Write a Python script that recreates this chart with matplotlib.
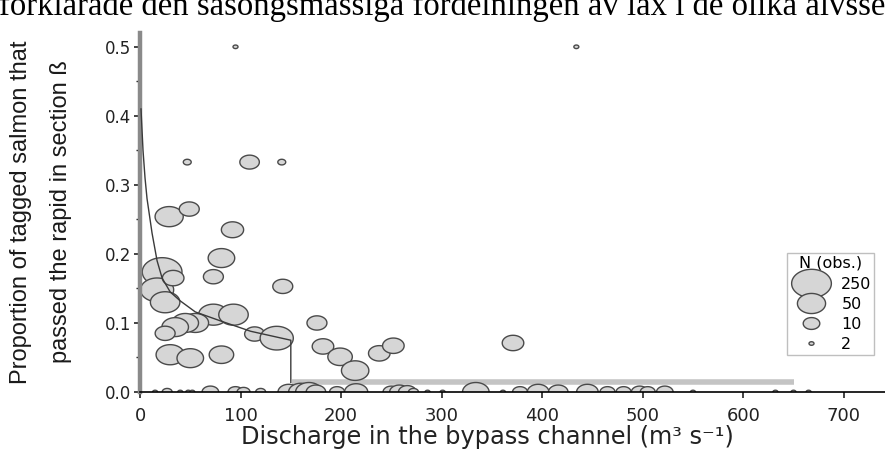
import numpy as np
import matplotlib
matplotlib.use("Agg")
import matplotlib.pyplot as plt
from matplotlib.path import Path
from matplotlib.markers import MarkerStyle
from matplotlib.lines import Line2D
from matplotlib.ticker import MultipleLocator

# ---------------- data ----------------
# observations with passage (x = discharge, y = proportion, n = number of obs.)
pos_x = [29, 49, 92, 81, 73, 109, 47, 141, 95, 434,
         22, 17, 25, 33, 73, 93, 55, 45, 35, 25,
         114, 136, 142, 176, 182, 199, 214, 238, 252, 371,
         30, 50, 81]
pos_y = [0.254, 0.265, 0.235, 0.194, 0.167, 0.333, 0.333, 0.333, 0.5, 0.5,
         0.174, 0.148, 0.130, 0.165, 0.112, 0.112, 0.100, 0.100, 0.094, 0.085,
         0.084, 0.078, 0.153, 0.100, 0.066, 0.051, 0.031, 0.056, 0.067, 0.071,
         0.054, 0.049, 0.054]
pos_n = [50, 16, 22, 40, 16, 15, 3, 3, 2, 2,
         250, 100, 60, 20, 60, 60, 40, 40, 40, 16,
         16, 100, 16, 16, 20, 30, 45, 20, 20, 20,
         50, 40, 30]

# observations with zero passage
zero_x = [15, 27, 40, 48, 52, 70, 95, 103, 120, 148, 160, 168, 175, 196, 215,
          250, 258, 266, 272, 286, 301, 334, 361, 378, 396, 416, 445, 465,
          481, 497, 505, 522, 550, 632, 650, 665]
zero_n = [2, 4, 2, 2, 2, 10, 8, 6, 4, 20, 30, 40, 15, 8, 25,
          10, 15, 12, 4, 2, 2, 40, 2, 8, 20, 15, 20, 8,
          8, 10, 8, 10, 2, 2, 2, 2]

# fitted relationship
fit_x = [1, 3, 5, 7, 12, 17, 22, 30, 40, 55, 80, 110, 150, 150]
fit_y = [0.41, 0.35, 0.31, 0.28, 0.23, 0.19, 0.165, 0.145, 0.132, 0.116,
         0.103, 0.088, 0.075, 0.014]
band_x = [151, 650]
band_y = [0.014, 0.014]

legend_n = [250, 50, 10, 2]
legend_labels = ["250", "50", "10", "2"]

x_ticks = [0, 100, 200, 300, 400, 500, 600, 700]
y_ticks = [0.0, 0.1, 0.2, 0.3, 0.4, 0.5]

# ---------------- style ----------------
t = np.linspace(0, 2 * np.pi, 73)
ell = MarkerStyle(Path(np.column_stack([1.4 * np.cos(t), np.sin(t)]), closed=True))
face = "#d6d6d6"
edge = "#4a4a4a"


def width_pt(n):
    return np.maximum(7.2 * np.log(np.asarray(n, float)), 4.5) * 72 / 100


fig = plt.figure(figsize=(8.85, 4.54), dpi=100)
ax = fig.add_axes([140 / 885, 62 / 454, 745 / 885, 359 / 454])
ax.set_xlim(0, 741)
ax.set_ylim(0, 0.52)

ax.plot(band_x, band_y, color="#c4c4c4", lw=4, solid_capstyle="butt", zorder=1.5)
ax.scatter(zero_x, np.zeros(len(zero_x)), s=width_pt(zero_n) ** 2, marker=ell,
           facecolor=face, edgecolor=edge, linewidths=1.0, zorder=2)
ax.scatter(pos_x, pos_y, s=width_pt(pos_n) ** 2, marker=ell,
           facecolor=face, edgecolor=edge, linewidths=1.0, zorder=2)
ax.plot(fit_x, fit_y, color="#3a3a3a", lw=1.0, zorder=3)

# axes styling
for s in ["top", "right"]:
    ax.spines[s].set_visible(False)
ax.spines["left"].set_color("#8a8a8a")
ax.spines["left"].set_linewidth(3.2)
ax.spines["bottom"].set_color("black")
ax.spines["bottom"].set_linewidth(1.2)
ax.spines["bottom"].set_zorder(4)

ax.set_xticks(x_ticks)
ax.set_yticks(y_ticks)
ax.yaxis.set_minor_locator(MultipleLocator(0.05))
ax.set_yticklabels([f"{v:.1f}" for v in y_ticks])
ax.tick_params(axis="x", direction="out", length=4, width=1.2, pad=6.5,
               labelsize=13, colors="#222222")
ax.tick_params(axis="y", which="major", direction="out", length=4.5, width=1.2,
               pad=2, labelsize=12, colors="#222222")
ax.tick_params(axis="y", which="minor", direction="out", length=3, width=1.0,
               colors="#222222")

ax.set_xlabel("Discharge in the bypass channel (m\u00b3 s\u207b\u00b9)", fontsize=17.3,
              color="#222222")
ax.xaxis.set_label_coords((487 - 140) / 745, (392 - 437) / 359)
ax.xaxis.label.set_va("center")

ax.set_ylabel("Proportion of tagged salmon that\npassed the rapid in section \u00df",
              fontsize=17, family=["Liberation Sans", "DejaVu Sans"],
              linespacing=2.05, color="#1a1a1a")
ax.yaxis.set_label_coords((41 - 140) / 745, (392 - 212) / 359)
ax.yaxis.label.set_va("center")

handles = [Line2D([], [], ls="none", marker=ell, markersize=float(width_pt(n)),
                  markerfacecolor=face, markeredgecolor=edge, markeredgewidth=1.0)
           for n in legend_n]
leg = ax.legend(handles, legend_labels, title="N (obs.)", loc="upper left",
                bbox_to_anchor=(787 / 885, 1 - 253 / 454), bbox_transform=fig.transFigure,
                frameon=True, fancybox=False, edgecolor="#b0b0b0", fontsize=11.5,
                title_fontsize=11.5, labelspacing=0.3, handlelength=2.7,
                handleheight=0.9, handletextpad=0.55, borderpad=0.15, borderaxespad=0)
leg.get_frame().set_linewidth(1.0)
leg._legend_box.sep = 5

fig.text(-1 / 885, 1 - 15 / 454,
         "förklarade den säsongsmässiga fördelningen av lax i de olika älvsse",
         family="Liberation Serif", fontsize=23.6, va="baseline", ha="left")

fig.savefig("out.png", dpi=100)
